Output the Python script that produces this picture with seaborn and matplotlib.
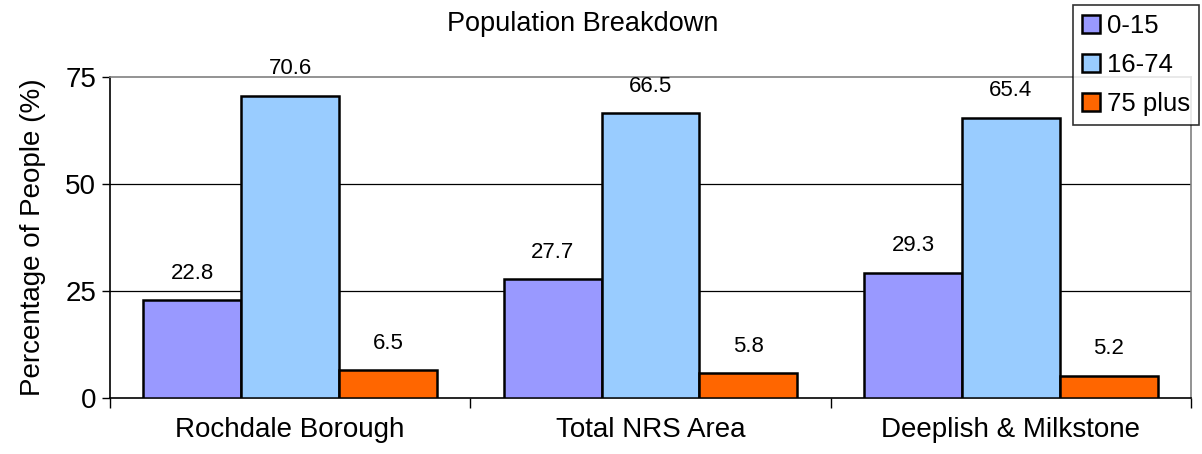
import pandas as pd
import numpy as np
import matplotlib
matplotlib.use('Agg')
import matplotlib.pyplot as plt
import seaborn as sns

sns.set_style('white')
plt.rcParams['font.family'] = ['Liberation Sans', 'DejaVu Sans']
plt.rcParams['text.color'] = 'black'
plt.rcParams['axes.labelcolor'] = 'black'
plt.rcParams['xtick.color'] = 'black'
plt.rcParams['ytick.color'] = 'black'

#data
areas = ['Rochdale Borough', 'Total NRS Area', 'Deeplish & Milkstone']
age_groups = ['0-15', '16-74', '75 plus']
age_0_15 = [22.8, 27.7, 29.3]
age_16_74 = [70.6, 66.5, 65.4]
age_75_plus = [6.5, 5.8, 5.2]
colours = ['#9999FF', '#99CCFF', '#FF6600']

df = pd.DataFrame({'area': areas * 3,
                   'group': np.repeat(age_groups, 3),
                   'pct': age_0_15 + age_16_74 + age_75_plus})

fig = plt.figure(figsize=(12.02, 4.54), dpi=100)
ax = fig.add_axes([110/1202, 56/454, 1081/1202, 321/454])

sns.barplot(data=df, x='area', y='pct', hue='group', order=areas, hue_order=age_groups,
            palette=dict(zip(age_groups, colours)), width=0.815, saturation=1,
            edgecolor='black', linewidth=1.8, ax=ax, zorder=3)

for c in ax.containers:
    ax.bar_label(c, labels=[f'{v:.1f}' for v in c.datavalues], padding=12, fontsize=16, color='black')

ax.set_ylim(0, 75)
ax.set_xlim(-0.5, 2.5)
ax.set_yticks([0, 25, 50, 75])
ax.tick_params(axis='y', labelsize=20, length=6, width=1, direction='out', left=True, pad=4)
ax.set_xticks([-0.5, 0.5, 1.5, 2.5], minor=False)
ax.set_xticklabels([])
ax.set_xticks([0, 1, 2], minor=True)
ax.set_xticklabels(areas, minor=True)
ax.tick_params(axis='x', which='major', length=7, width=1, direction='out', bottom=True)
ax.tick_params(axis='x', which='minor', length=0, labelsize=20, pad=14)
for y in [25, 50]:
    ax.axhline(y, color='black', lw=0.9, zorder=1)
ax.spines['left'].set_color('black')
ax.spines['bottom'].set_color('black')
ax.spines['top'].set_color('#808080')
ax.spines['right'].set_color('#808080')
for s in ax.spines.values():
    s.set_linewidth(1.2)
ax.set_xlabel('')
ax.set_ylabel('Percentage of People (%)', fontsize=20, labelpad=14)
fig.text(583/1202, 1 - 24/454, 'Population Breakdown', fontsize=19.5, ha='center', va='center')

leg = ax.legend(loc='upper left', bbox_to_anchor=(1073/1202, 1 - 5/454), bbox_transform=fig.transFigure,
                fontsize=18.5, frameon=True, fancybox=False, edgecolor='black', handlelength=0.7,
                handleheight=0.7, handletextpad=0.25, labelspacing=0.58, borderpad=0.36, borderaxespad=0)
leg.get_frame().set_linewidth(1.2)

fig.savefig('out.png', dpi=100)
